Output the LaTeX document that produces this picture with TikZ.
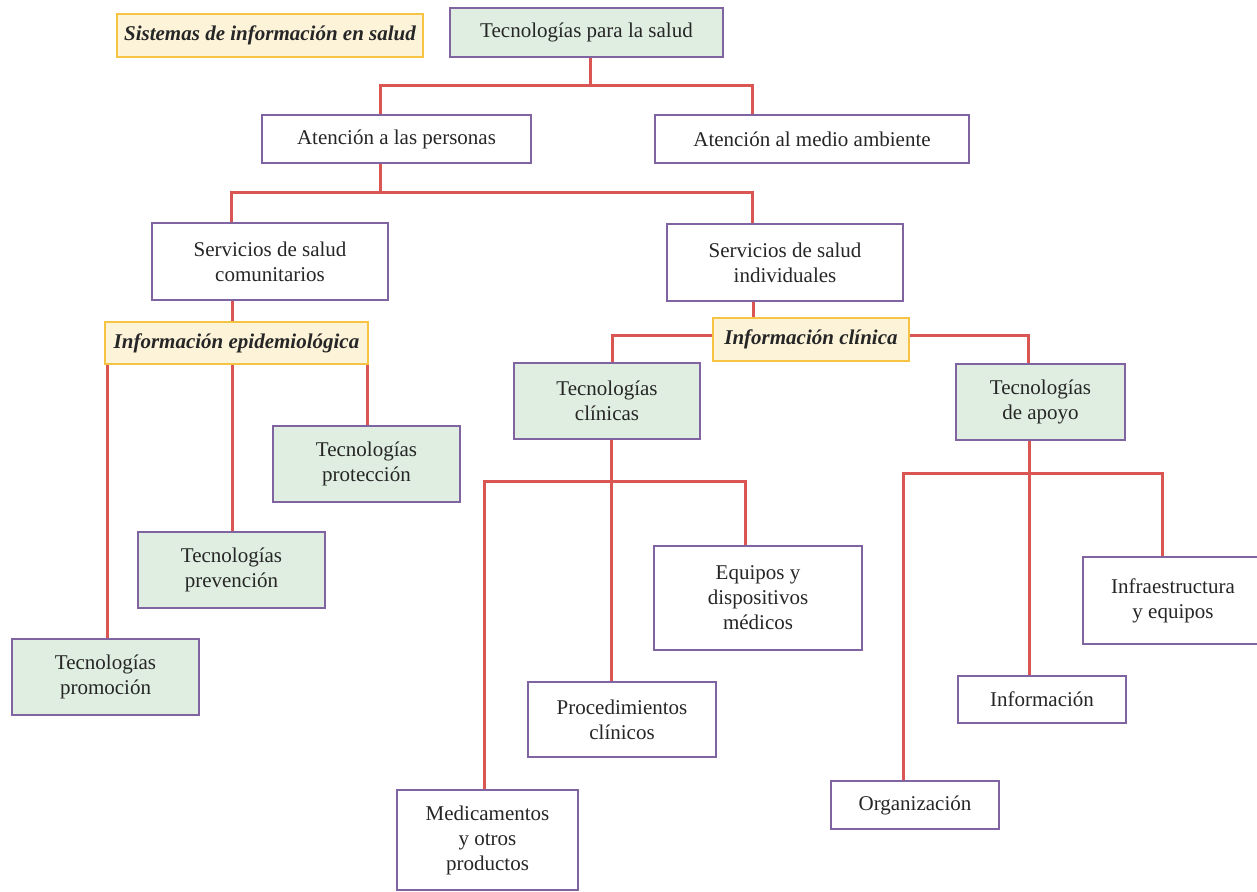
\documentclass[tikz,border=0pt]{standalone}
\usepackage{fontspec}
\setmainfont{Liberation Serif}
\usetikzlibrary{positioning,calc}
\definecolor{boxpurple}{HTML}{8064A2}
\definecolor{techgreen}{HTML}{DFEEE1}
\definecolor{infoyellow}{HTML}{F6C343}
\definecolor{infocream}{HTML}{FCF3D9}
\definecolor{linkred}{HTML}{DA5653}
\definecolor{textgray}{HTML}{262626}

\begin{document}
\begin{tikzpicture}[x=1pt, y=-1pt,
    plain box/.style={draw=boxpurple, line width=1.6pt, fill=white, align=center, inner sep=0pt, text=textgray, font=\fontsize{21}{25}\selectfont},
    tech box/.style={plain box, fill=techgreen},
    info box/.style={draw=infoyellow, line width=1.4pt, fill=infocream, inner sep=0pt, text=textgray, font=\fontsize{21}{25}\selectfont\bfseries\itshape},
    link/.style={draw=linkred, line width=3pt}]
    \useasboundingbox (0,0) rectangle (1257,891);

    % boxes
    \node[info box, minimum width=306pt, minimum height=43pt] (sis) at (270,35.5) {Sistemas de información en salud};
    \node[tech box, minimum width=273pt, minimum height=49pt] (tps) at (586.5,32.5) {Tecnologías para la salud};
    \node[plain box, minimum width=269pt, minimum height=48pt] (ap) at (396.5,139) {Atención a las personas};
    \node[plain box, minimum width=314pt, minimum height=48pt] (ama) at (812,139) {Atención al medio ambiente};
    \node[plain box, minimum width=236pt, minimum height=77pt] (ssc) at (270,261.5) {Servicios de salud\\comunitarios};
    \node[plain box, minimum width=236pt, minimum height=77pt] (ssi) at (785,262.5) {Servicios de salud\\individuales};
    \node[info box, minimum width=263pt, minimum height=42pt] (iepi) at (236.5,343) {Información epidemiológica};
    \node[info box, minimum width=196pt, minimum height=43pt] (icli) at (811,339.5) {Información clínica};
    \node[tech box, minimum width=186pt, minimum height=76pt] (tcli) at (607,401) {Tecnologías\\clínicas};
    \node[tech box, minimum width=169pt, minimum height=76pt] (tapo) at (1040.5,402) {Tecnologías\\de apoyo};
    \node[tech box, minimum width=187pt, minimum height=76pt] (tpro) at (366.5,464) {Tecnologías\\protección};
    \node[tech box, minimum width=187pt, minimum height=76pt] (tpre) at (231.5,570) {Tecnologías\\prevención};
    \node[tech box, minimum width=187pt, minimum height=76pt] (tprm) at (105.5,677) {Tecnologías\\promoción};
    \node[plain box, minimum width=208pt, minimum height=104pt] (equ) at (758,598) {Equipos y\\dispositivos\\médicos};
    \node[plain box, minimum width=188pt, minimum height=75pt] (proc) at (622,719.5) {Procedimientos\\clínicos};
    \node[plain box, minimum width=181pt, minimum height=100pt] (med) at (487.5,840) {Medicamentos\\y otros\\productos};
    \node[plain box, minimum width=180pt, minimum height=87pt] (inf) at (1173,600.5) {Infraestructura\\y equipos};
    \node[plain box, minimum width=168pt, minimum height=47pt] (info) at (1042,699.5) {Información};
    \node[plain box, minimum width=168pt, minimum height=48pt] (org) at (915,805) {Organización};

    % rails
    \coordinate (r1c) at (590,85);
    \coordinate (r1l) at (380,85);
    \coordinate (r1r) at (752,85);
    \coordinate (r2c) at (380,192);
    \coordinate (r2l) at (231,192);
    \coordinate (r2r) at (752,192);
    \coordinate (r3c) at (232,310);
    \coordinate (r3a) at (107,380);
    \coordinate (r3b) at (232,380);
    \coordinate (r3d) at (367,380);
    \coordinate (r4c) at (753,310);
    \coordinate (r4l) at (612,335);
    \coordinate (r4r) at (1028,335);
    \coordinate (r5c) at (611,481);
    \coordinate (r5l) at (484,481);
    \coordinate (r5r) at (745,481);
    \coordinate (r6c) at (1029,473);
    \coordinate (r6l) at (903,473);
    \coordinate (r6r) at (1162,473);

    % connectors
    \draw[link] (tps.south -| r1c) -- (r1c);
    \draw[link] (ap.north -| r1l) -- (r1l) -- (r1r) -- (ama.north -| r1r);
    \draw[link] (ap.south -| r2c) -- (r2c);
    \draw[link] (ssc.north -| r2l) -- (r2l) -- (r2r) -- (ssi.north -| r2r);
    \draw[link] (ssc.south -| r3c) -- (iepi.north -| r3c);
    \draw[link] (iepi.south -| r3a) -- (tprm.north -| r3a);
    \draw[link] (iepi.south -| r3b) -- (tpre.north -| r3b);
    \draw[link] (iepi.south -| r3d) -- (tpro.north -| r3d);
    \draw[link] (ssi.south -| r4c) -- (icli.north -| r4c);
    \draw[link] (icli.west |- r4l) -- (r4l) -- (tcli.north -| r4l);
    \draw[link] (icli.east |- r4r) -- (r4r) -- (tapo.north -| r4r);
    \draw[link] (tcli.south -| r5c) -- (proc.north -| r5c);
    \draw[link] (med.north -| r5l) -- (r5l) -- (r5r) -- (equ.north -| r5r);
    \draw[link] (tapo.south -| r6c) -- (info.north -| r6c);
    \draw[link] (org.north -| r6l) -- (r6l) -- (r6r) -- (inf.north -| r6r);
\end{tikzpicture}
\end{document}
